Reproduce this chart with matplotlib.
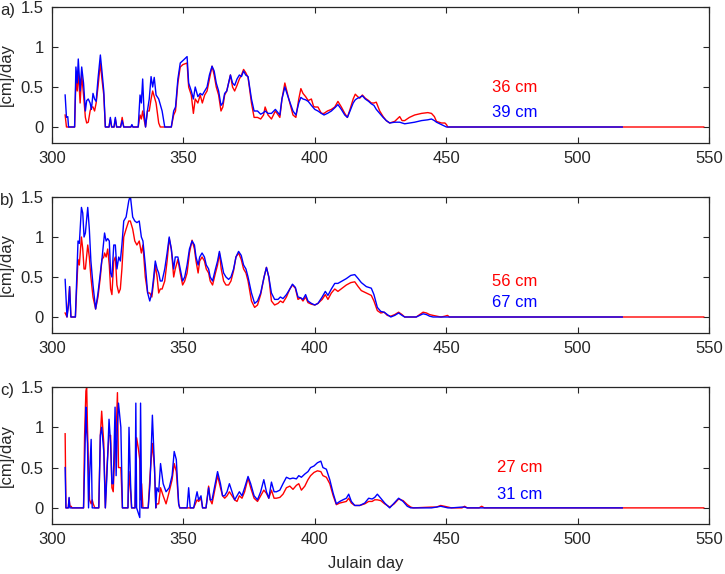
import numpy as np
import matplotlib.pyplot as plt

plt.rcParams['font.family'] = ['Liberation Sans', 'DejaVu Sans']

# ---- panel a ----
days_a = [305.0, 305.5, 306.0, 306.3, 308.6, 309.1, 309.6, 310.0, 310.7, 311.3,
          312.0, 312.7, 313.2, 313.8, 314.5, 315.0, 315.6, 316.2, 316.8, 317.5,
          318.4, 319.0, 319.7, 320.3, 321.7, 322.2, 322.7, 323.6, 324.1, 324.6,
          326.1, 326.7, 327.3, 330.0, 330.4, 330.8, 332.8, 333.5, 334.0, 334.5,
          335.0, 335.6, 336.3, 337.0, 337.7, 338.3, 338.9, 339.6, 340.6, 341.2,
          341.9, 342.9, 345.4, 346.3, 347.0, 347.9, 348.8, 349.8, 351.4, 352.0,
          353.0, 353.8, 354.5, 355.5, 356.4, 357.2, 358.1, 359.0, 359.9, 360.9,
          361.7, 362.5, 363.4, 364.3, 365.0, 365.7, 366.5, 367.2, 367.9, 368.7,
          369.5, 370.4, 371.3, 372.1, 372.9, 373.7, 374.6, 375.9, 376.9, 378.2,
          379.4, 380.5, 381.1, 382.2, 383.5, 385.0, 386.7, 387.5, 388.6, 390.1,
          391.7, 392.8, 393.9, 394.7, 395.5, 396.5, 397.5, 398.7, 399.5, 400.0,
          401.2, 402.5, 403.5, 404.8, 406.3, 407.6, 408.8, 410.1, 411.4, 412.4,
          413.4, 414.6, 415.4, 416.3, 417.1, 418.1, 419.2, 420.5, 421.5, 422.5,
          423.4, 424.7, 426.0, 427.2, 428.5, 430.4, 432.3, 433.2, 434.2, 436.0,
          438.0, 440.6, 443.0, 444.4, 445.5, 446.3, 448.2, 449.5, 450.1, 450.6]
red_a = [0.15, 0.0, 0.0, 0.0, 0.0, 0.60, 0.45, 0.70, 0.30, 0.65,
         0.40, 0.12, 0.05, 0.06, 0.20, 0.25, 0.25, 0.20, 0.30, 0.50,
         0.80, 0.60, 0.40, 0.0, 0.0, 0.10, 0.0, 0.0, 0.10, 0.0,
         0.0, 0.12, 0.0, 0.0, 0.02, 0.0, 0.0, 0.15, 0.10, 0.20,
         0.10, 0.0, 0.20, 0.20, 0.35, 0.45, 0.38, 0.30, 0.05, 0.0,
         0.0, 0.0, 0.0, 0.15, 0.20, 0.55, 0.75, 0.78, 0.80, 0.50,
         0.40, 0.17, 0.35, 0.30, 0.40, 0.30, 0.40, 0.45, 0.60, 0.76,
         0.65, 0.50, 0.40, 0.20, 0.25, 0.40, 0.45, 0.55, 0.65, 0.50,
         0.45, 0.52, 0.60, 0.65, 0.72, 0.68, 0.62, 0.30, 0.12, 0.12,
         0.10, 0.15, 0.25, 0.15, 0.10, 0.20, 0.12, 0.35, 0.55, 0.35,
         0.15, 0.12, 0.35, 0.48, 0.42, 0.38, 0.33, 0.35, 0.26, 0.25,
         0.25, 0.17, 0.17, 0.20, 0.22, 0.25, 0.32, 0.25, 0.17, 0.12,
         0.22, 0.35, 0.41, 0.38, 0.36, 0.40, 0.36, 0.33, 0.30, 0.30,
         0.31, 0.20, 0.13, 0.08, 0.05, 0.07, 0.13, 0.08, 0.08, 0.12,
         0.15, 0.17, 0.18, 0.17, 0.13, 0.07, 0.05, 0.05, 0.03, 0.0]
blue_a = [0.40, 0.12, 0.13, 0.0, 0.0, 0.75, 0.55, 0.85, 0.45, 0.75,
          0.55, 0.20, 0.33, 0.35, 0.30, 0.22, 0.42, 0.35, 0.32, 0.60,
          0.90, 0.70, 0.45, 0.0, 0.0, 0.12, 0.0, 0.0, 0.12, 0.0,
          0.0, 0.08, 0.0, 0.0, 0.03, 0.0, 0.0, 0.40, 0.30, 0.60,
          0.20, 0.0, 0.20, 0.35, 0.63, 0.50, 0.62, 0.40, 0.35, 0.28,
          0.20, 0.0, 0.0, 0.20, 0.25, 0.60, 0.80, 0.83, 0.88, 0.55,
          0.45, 0.35, 0.50, 0.38, 0.42, 0.40, 0.45, 0.50, 0.65, 0.76,
          0.70, 0.55, 0.45, 0.27, 0.30, 0.42, 0.45, 0.55, 0.65, 0.55,
          0.52, 0.60, 0.65, 0.63, 0.70, 0.65, 0.63, 0.35, 0.20, 0.20,
          0.16, 0.18, 0.20, 0.17, 0.17, 0.22, 0.15, 0.35, 0.50, 0.35,
          0.20, 0.15, 0.30, 0.37, 0.35, 0.34, 0.32, 0.27, 0.24, 0.22,
          0.20, 0.17, 0.15, 0.17, 0.20, 0.24, 0.28, 0.22, 0.15, 0.12,
          0.20, 0.30, 0.34, 0.36, 0.37, 0.39, 0.35, 0.32, 0.29, 0.27,
          0.22, 0.17, 0.12, 0.08, 0.05, 0.06, 0.06, 0.05, 0.04, 0.05,
          0.06, 0.08, 0.09, 0.10, 0.08, 0.06, 0.03, 0.01, 0.0, 0.0]

# ---- panel b ----
days_b = [305.0, 305.7, 306.3, 306.7, 307.2, 308.9, 309.9, 310.4, 311.2, 311.7,
          312.2, 312.7, 313.6, 314.2, 314.8, 315.6, 316.6, 317.5, 318.4, 319.0,
          319.7, 320.0, 320.6, 321.2, 321.8, 322.3, 322.8, 323.5, 324.1, 324.7,
          325.4, 326.0, 326.6, 327.3, 328.2, 329.2, 329.8, 330.7, 331.5, 332.3,
          333.2, 334.0, 334.6, 335.5, 336.4, 337.2, 338.0, 338.7, 339.3, 340.0,
          340.6, 341.2, 341.9, 342.9, 343.8, 344.6, 345.4, 346.3, 346.9, 347.9,
          348.8, 349.7, 350.5, 351.4, 352.3, 353.3, 354.2, 354.8, 355.6, 356.2,
          357.1, 358.0, 358.7, 359.6, 360.2, 361.1, 362.2, 363.0, 363.7, 364.4,
          365.3, 366.2, 367.2, 368.1, 369.1, 370.0, 371.0, 372.0, 372.9, 373.8,
          374.6, 375.9, 377.1, 378.2, 379.4, 380.7, 381.6, 382.5, 383.5, 384.7,
          386.0, 386.9, 387.9, 389.2, 390.5, 391.5, 392.6, 393.6, 394.6, 395.5,
          396.5, 397.4, 398.7, 400.0, 401.2, 402.8, 404.0, 405.0, 406.3, 407.6,
          408.8, 410.4, 412.0, 413.7, 415.2, 416.5, 417.7, 419.6, 421.5, 422.5,
          423.8, 425.1, 426.4, 427.6, 428.9, 430.4, 431.9, 433.2, 434.2, 438.6,
          439.9, 441.2, 442.5, 443.7, 445.0, 446.5, 448.0, 449.5, 450.5, 451.2]
red_b = [0.05, 0.0, 0.20, 0.38, 0.0, 0.0, 0.72, 0.65, 1.00, 0.85,
         0.60, 0.60, 0.90, 0.75, 0.50, 0.25, 0.10, 0.25, 0.50, 0.72,
         0.75, 0.80, 0.75, 0.85, 0.65, 0.35, 0.28, 0.70, 0.75, 0.40,
         0.30, 0.35, 0.60, 1.00, 1.10, 1.20, 1.20, 1.10, 0.95, 0.90,
         0.95, 0.80, 0.90, 0.50, 0.30, 0.30, 0.25, 0.45, 0.65, 0.50,
         0.30, 0.35, 0.35, 0.45, 0.70, 0.98, 0.85, 0.50, 0.60, 0.72,
         0.55, 0.40, 0.45, 0.55, 0.80, 0.96, 0.85, 0.70, 0.55, 0.70,
         0.75, 0.70, 0.60, 0.55, 0.45, 0.40, 0.55, 0.65, 0.80, 0.60,
         0.45, 0.40, 0.40, 0.45, 0.58, 0.75, 0.80, 0.72, 0.60, 0.55,
         0.45, 0.20, 0.12, 0.15, 0.28, 0.50, 0.62, 0.50, 0.20, 0.15,
         0.17, 0.20, 0.18, 0.25, 0.35, 0.40, 0.36, 0.22, 0.24, 0.20,
         0.25, 0.18, 0.16, 0.15, 0.17, 0.22, 0.28, 0.22, 0.30, 0.35,
         0.32, 0.36, 0.40, 0.43, 0.44, 0.38, 0.33, 0.30, 0.27, 0.20,
         0.08, 0.05, 0.06, 0.02, 0.01, 0.03, 0.06, 0.03, 0.0, 0.0,
         0.03, 0.06, 0.05, 0.03, 0.02, 0.01, 0.0, 0.01, 0.02, 0.0]
blue_b = [0.47, 0.0, 0.15, 0.38, 0.0, 0.0, 0.95, 0.92, 1.37, 1.30,
          1.00, 1.05, 1.37, 1.10, 0.70, 0.40, 0.10, 0.30, 0.55, 0.72,
          0.95, 1.05, 0.95, 0.98, 0.95, 0.55, 0.50, 0.90, 0.90, 0.60,
          0.75, 0.70, 0.90, 1.20, 1.25, 1.45, 1.52, 1.25, 1.20, 1.18,
          1.20, 1.00, 0.95, 0.65, 0.30, 0.20, 0.30, 0.50, 0.70, 0.60,
          0.55, 0.45, 0.45, 0.60, 0.80, 1.00, 0.85, 0.60, 0.75, 0.75,
          0.60, 0.45, 0.50, 0.65, 0.85, 0.95, 0.90, 0.75, 0.65, 0.75,
          0.80, 0.75, 0.65, 0.60, 0.50, 0.45, 0.60, 0.70, 0.82, 0.70,
          0.55, 0.50, 0.47, 0.50, 0.60, 0.75, 0.82, 0.77, 0.65, 0.60,
          0.50, 0.30, 0.17, 0.20, 0.30, 0.50, 0.62, 0.50, 0.30, 0.22,
          0.22, 0.25, 0.23, 0.28, 0.35, 0.41, 0.37, 0.25, 0.24, 0.22,
          0.28, 0.20, 0.17, 0.15, 0.17, 0.25, 0.32, 0.27, 0.35, 0.42,
          0.42, 0.45, 0.48, 0.52, 0.53, 0.48, 0.43, 0.38, 0.36, 0.28,
          0.12, 0.07, 0.06, 0.03, 0.0, 0.02, 0.05, 0.02, 0.0, 0.0,
          0.02, 0.04, 0.03, 0.01, 0.0, 0.0, 0.0, 0.0, 0.0, 0.0]

# ---- panel c ----
days_c = [305.0, 305.3, 306.2, 306.5, 306.8, 307.3, 307.6, 312.0, 312.4, 312.9,
          313.2, 313.5, 313.9, 314.3, 314.9, 315.3, 315.7, 316.3, 317.8, 318.4,
          318.9, 319.7, 320.3, 320.9, 321.7, 322.3, 322.8, 323.3, 324.0, 324.4,
          324.9, 325.3, 326.2, 326.8, 328.4, 328.9, 329.3, 329.9, 330.3, 331.0,
          331.6, 331.9, 332.2, 332.8, 333.4, 333.7, 334.1, 334.6, 336.6, 337.3,
          338.2, 339.0, 339.5, 339.9, 340.6, 341.3, 342.3, 343.4, 344.6, 345.7,
          346.5, 347.3, 348.2, 348.6, 351.4, 352.0, 352.6, 353.9, 355.2, 355.8,
          356.7, 357.3, 358.6, 359.6, 360.2, 360.9, 361.8, 363.0, 364.1, 364.9,
          365.7, 366.6, 367.5, 368.5, 369.5, 370.4, 371.3, 372.3, 373.3, 374.6,
          375.6, 376.9, 378.2, 379.4, 380.6, 381.6, 382.5, 383.5, 384.5, 385.4,
          386.7, 387.9, 389.2, 390.5, 391.7, 393.0, 393.9, 394.9, 396.2, 397.4,
          398.4, 399.7, 401.0, 402.3, 403.1, 404.4, 405.7, 407.0, 408.2, 409.5,
          410.7, 412.0, 412.9, 413.9, 415.2, 417.1, 419.0, 420.5, 421.8, 422.8,
          423.8, 425.1, 426.6, 428.5, 430.2, 431.9, 433.6, 435.2, 436.5, 437.5,
          444.4, 446.3, 447.9, 449.4, 450.7, 452.0, 456.0, 457.0, 458.0, 462.5,
          463.5, 464.5]
red_c = [0.92, 0.0, 0.0, 0.12, 0.02, 0.02, 0.0, 0.0, 0.90, 1.45,
         1.50, 1.00, 0.50, 0.10, 0.05, 0.10, 0.05, 0.0, 0.0, 0.90,
         1.20, 0.80, 0.0, 0.50, 0.90, 0.90, 0.25, 0.20, 0.80, 0.90,
         1.43, 0.50, 0.50, 0.0, 0.0, 0.0, 0.45, 0.20, 0.0, 0.0,
         0.0, 0.50, 0.87, 0.75, 0.60, 0.10, 0.30, 0.0, 0.0, 0.40,
         0.80, 0.50, 0.0, 0.05, 0.05, 0.25, 0.15, 0.05, 0.20, 0.35,
         0.55, 0.45, 0.05, 0.0, 0.0, 0.0, 0.0, 0.0, 0.10, 0.08,
         0.12, 0.0, 0.0, 0.27, 0.10, 0.05, 0.20, 0.40, 0.25, 0.15,
         0.12, 0.15, 0.20, 0.15, 0.10, 0.08, 0.15, 0.12, 0.20, 0.37,
         0.25, 0.12, 0.08, 0.15, 0.22, 0.18, 0.12, 0.22, 0.12, 0.12,
         0.13, 0.17, 0.25, 0.27, 0.23, 0.28, 0.30, 0.22, 0.27, 0.35,
         0.40, 0.44, 0.46, 0.45, 0.40, 0.38, 0.30, 0.15, 0.04, 0.06,
         0.07, 0.08, 0.12, 0.06, 0.03, 0.03, 0.05, 0.08, 0.08, 0.10,
         0.10, 0.09, 0.05, 0.01, 0.05, 0.11, 0.09, 0.04, 0.01, 0.0,
         0.01, 0.01, 0.03, 0.02, 0.01, 0.0, 0.0, 0.02, 0.0, 0.0,
         0.02, 0.0]
blue_c = [0.50, 0.0, 0.0, 0.13, 0.0, 0.0, 0.0, 0.0, 0.50, 1.25,
          0.95, 0.80, 0.0, 0.40, 0.85, 0.0, 0.0, 0.0, 0.0, 0.90,
          1.00, 0.70, 0.0, 0.40, 1.10, 0.80, 0.30, 0.30, 1.25, 0.40,
          1.05, 1.30, 1.00, 0.0, 0.0, 0.0, 1.00, 0.30, 0.0, 0.0,
          0.0, 1.30, 0.0, -0.06, -0.12, 1.30, 0.0, 0.0, 0.0, 0.30,
          1.15, 0.50, 0.0, 0.25, 0.20, 0.55, 0.30, 0.20, 0.25, 0.40,
          0.70, 0.60, 0.05, 0.0, 0.0, 0.25, 0.0, 0.0, 0.20, 0.10,
          0.15, 0.0, 0.0, 0.25, 0.10, 0.10, 0.25, 0.45, 0.30, 0.15,
          0.15, 0.20, 0.30, 0.20, 0.10, 0.15, 0.20, 0.15, 0.25, 0.39,
          0.30, 0.15, 0.10, 0.20, 0.35, 0.20, 0.12, 0.32, 0.20, 0.20,
          0.22, 0.30, 0.38, 0.36, 0.37, 0.36, 0.40, 0.38, 0.42, 0.45,
          0.50, 0.52, 0.56, 0.58, 0.50, 0.48, 0.35, 0.18, 0.05, 0.08,
          0.10, 0.12, 0.17, 0.08, 0.03, 0.03, 0.06, 0.12, 0.11, 0.13,
          0.17, 0.12, 0.06, 0.0, 0.06, 0.12, 0.08, 0.02, 0.0, 0.0,
          0.0, 0.01, 0.02, 0.01, 0.0, 0.0, 0.01, 0.01, 0.0, 0.0,
          0.0, 0.0]

# both series are zero after the active season; red runs longer
red_end = 548
blue_end = 517

labels_red = ['36 cm', '56 cm', '27 cm']
labels_blue = ['39 cm', '67 cm', '31 cm']
panel_tags = ['a)', 'b)', 'c)']

panels = [(days_a, red_a, blue_a), (days_b, red_b, blue_b), (days_c, red_c, blue_c)]

fig = plt.figure(figsize=(7.25, 5.74), dpi=100)
W, H = 725, 574
boxes = [(7, 143), (197, 333), (387, 524)]
axcol = '#262626'

for i, (d, r, b) in enumerate(panels):
    top, bot = boxes[i]
    ax = fig.add_axes([52 / W, 1 - bot / H, 657 / W, (bot - top) / H])
    dr = list(d) + [red_end]
    rr = list(r) + [0.0]
    db = list(d) + [blue_end]
    bb = list(b) + [0.0]
    ax.plot(dr, rr, color='#ff0000', lw=1.0)
    ax.plot(db, bb, color='#0000ff', lw=1.0)
    ax.set_xlim(300, 550)
    ax.set_ylim(-0.2, 1.5)
    ax.set_xticks([300, 350, 400, 450, 500, 550])
    ax.set_yticks([0, 0.5, 1, 1.5])
    ax.set_yticklabels(['0', '0.5', '1', '1.5'])
    ax.tick_params(direction='in', length=4, width=0.8, top=True, right=True,
                   labelsize=12, colors=axcol, pad=6)
    for s in ax.spines.values():
        s.set_color(axcol)
        s.set_linewidth(0.9)
    ax.set_ylabel('[cm]/day', fontsize=12, color=axcol)
    ax.yaxis.set_label_coords(-0.058, 0.5)
    tx = 476 if i < 2 else 478
    ax.text(tx, 0.5 if i != 1 else 0.45, labels_red[i], color='#ff0000',
            fontsize=12, ha='center', va='center')
    ax.text(tx, 0.18 if i != 2 else 0.16, labels_blue[i], color='#0000ff',
            fontsize=12, ha='center', va='center')
    fig.text(0.0, 1 - (top + 3) / H, panel_tags[i], fontsize=12, color=axcol,
             ha='left', va='center')
    if i == 2:
        ax.set_xlabel('Julain day', fontsize=12, color=axcol)
        ax.xaxis.set_label_coords((366 - 52) / 657, -0.235)

fig.savefig('out.png', dpi=100)
